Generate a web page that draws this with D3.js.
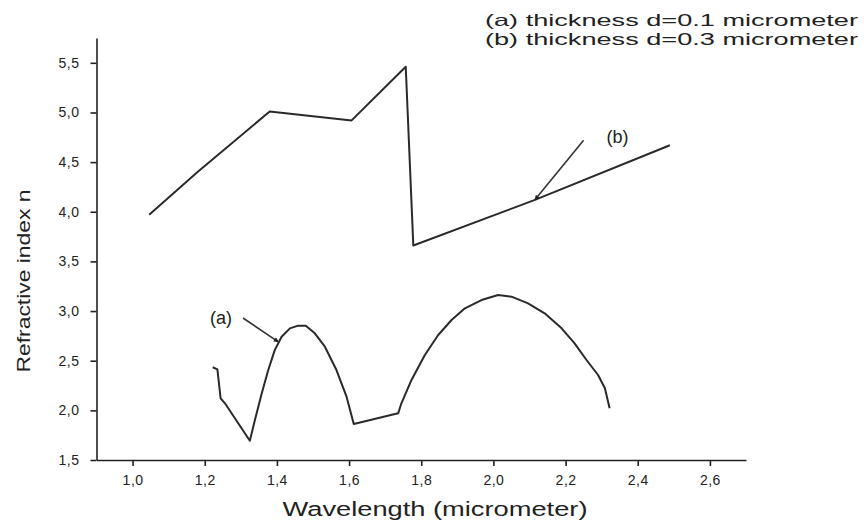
<!DOCTYPE html>
<html><head><meta charset="utf-8">
<script src="https://cdn.jsdelivr.net/npm/d3@7"></script>
<style>body{margin:0;background:#fff}svg{display:block}text{font-family:"Liberation Sans",Arial,sans-serif;fill:#222}</style>
</head><body><svg id="c" width="864" height="525"></svg>
<script>
// Series (a): thickness d=0.1 micrometer
const wavelengthA = [1.222,1.235,1.244,1.256,1.325,1.339,1.358,1.376,1.394,1.413,1.436,1.459,1.480,1.505,1.533,1.565,1.593,1.613,1.736,1.745,1.773,1.810,1.847,1.884,1.921,1.967,2.013,2.050,2.096,2.142,2.189,2.225,2.258,2.290,2.309,2.322];
const indexA      = [2.434,2.413,2.121,2.071,1.694,1.903,2.172,2.406,2.607,2.742,2.826,2.853,2.853,2.776,2.641,2.406,2.138,1.863,1.970,2.071,2.306,2.558,2.759,2.910,3.028,3.111,3.162,3.145,3.078,2.977,2.826,2.675,2.507,2.356,2.222,2.021];
// Series (b): thickness d=0.3 micrometer
const wavelengthB = [1.046,1.18,1.38,1.607,1.757,1.778,2.115,2.489];
const indexB      = [3.97,4.40,5.01,4.92,5.46,3.66,4.12,4.67];
// Axis ticks
const xMajorTicks = [1.0,1.2,1.4,1.6,1.8,2.0,2.2,2.4,2.6];
const xMinorTicks = [1.1,1.3,1.5,1.7,1.9,2.1,2.3,2.5,2.7];
const yMajorTicks = [1.5,2.0,2.5,3.0,3.5,4.0,4.5,5.0,5.5];
const yMinorTicks = [1.75,2.25,2.75,3.25,3.75,4.25,4.75,5.25,5.75];
// Annotations
const annotations = [
  {label:"(a)", lx:1.245, ly:2.93, x0:1.306, y0:2.93, x1:1.404, y1:2.69},
  {label:"(b)", lx:2.344, ly:4.76, x0:2.250, y0:4.72, x1:2.115, y1:4.12}
];
const legendLines = ["(a) thickness d=0.1 micrometer","(b) thickness d=0.3 micrometer"];

const svg = d3.select("#c");
const x = d3.scaleLinear().domain([0.9,2.7]).range([96.5,746]);
const y = d3.scaleLinear().domain([1.5,5.75]).range([460,38]);
const fmt = v => d3.format(".1f")(v).replace(".", ",");

// X axis
const gx = svg.append("g").attr("transform","translate(0,460)");
gx.call(d3.axisBottom(x).tickValues(xMinorTicks).tickSize(3).tickFormat("")).call(g=>g.select(".domain").remove());
gx.call(d3.axisBottom(x).tickValues(xMajorTicks).tickSize(6).tickSizeOuter(0).tickPadding(9).tickFormat(fmt));
gx.selectAll("line,path").attr("stroke","#222").attr("stroke-width",1.6);
gx.selectAll("text").attr("font-size",14).attr("fill","#222").attr("letter-spacing","0.5px").attr("font-family","Liberation Sans, Arial, sans-serif");
// Y axis
const gy = svg.append("g").attr("transform","translate(96.5,0)");
gy.call(d3.axisLeft(y).tickValues(yMinorTicks).tickSize(3).tickFormat("")).call(g=>g.select(".domain").remove());
gy.call(d3.axisLeft(y).tickValues(yMajorTicks).tickSize(6).tickSizeOuter(0).tickPadding(11).tickFormat(fmt));
gy.selectAll("line,path").attr("stroke","#222").attr("stroke-width",1.6);
gy.selectAll("text").attr("font-size",14).attr("fill","#222").attr("letter-spacing","0.5px").attr("font-family","Liberation Sans, Arial, sans-serif");

// Lines
const line = d3.line().x(d=>x(d[0])).y(d=>y(d[1]));
svg.append("path").datum(wavelengthA.map((v,i)=>[v,indexA[i]]))
  .attr("d",line).attr("fill","none").attr("stroke","#2a2a2a").attr("stroke-width",2).attr("stroke-linejoin","round");
svg.append("path").datum(wavelengthB.map((v,i)=>[v,indexB[i]]))
  .attr("d",line).attr("fill","none").attr("stroke","#2a2a2a").attr("stroke-width",2).attr("stroke-linejoin","round");

// Arrows
svg.append("defs").append("marker").attr("id","ah").attr("viewBox","0 0 10 10").attr("refX",9).attr("refY",5)
  .attr("markerWidth",8).attr("markerHeight",5).attr("orient","auto").attr("markerUnits","userSpaceOnUse")
  .append("path").attr("d","M0,0L10,5L0,10z").attr("fill","#222");
annotations.forEach(a=>{
  svg.append("line").attr("x1",x(a.x0)).attr("y1",y(a.y0)).attr("x2",x(a.x1)).attr("y2",y(a.y1))
    .attr("stroke","#333").attr("stroke-width",1.6).attr("marker-end","url(#ah)");
  svg.append("text").attr("x",x(a.lx)).attr("y",y(a.ly)).attr("dy","0.35em").attr("text-anchor","middle")
    .attr("font-size",18).text(a.label);
});

// Axis titles
svg.append("text").attr("x",435).attr("y",516).attr("text-anchor","middle").attr("font-size",20)
  .attr("textLength",305).attr("lengthAdjust","spacingAndGlyphs").text("Wavelength (micrometer)");
svg.append("text").attr("transform","translate(30,281) rotate(-90)").attr("text-anchor","middle").attr("font-size",19)
  .attr("textLength",183).attr("lengthAdjust","spacingAndGlyphs").text("Refractive index n");

// Legend text
legendLines.forEach((t,i)=>{
  svg.append("text").attr("x",485).attr("y",26+i*19).attr("font-size",16.5)
    .attr("textLength",373).attr("lengthAdjust","spacingAndGlyphs").text(t);
});
</script></body></html>
